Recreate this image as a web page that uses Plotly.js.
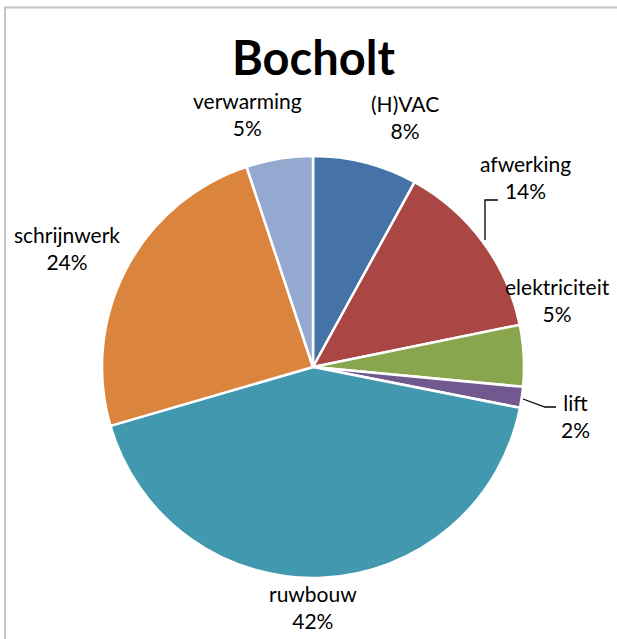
<!DOCTYPE html>
<html>
<head>
<meta charset="utf-8">
<script src="https://cdn.plot.ly/plotly-3.0.1.min.js"></script>
<style>html,body{margin:0;padding:0;background:#fff;}#chart{width:617px;height:639px;}</style>
</head>
<body>
<div id="chart"></div>
<script>
// Data
const categories = ["(H)VAC", "afwerking", "elektriciteit", "lift", "ruwbouw", "schrijnwerk", "verwarming"];
const values = [8.0, 13.8, 4.7, 1.6, 42.4, 24.4, 5.1];
const colors = ["#4572A7", "#AA4643", "#89A54E", "#71588F", "#4198AF", "#DB843D", "#93A9CF"];
const chartTitle = "Bocholt";

// Label placement (styling, in pixels)
const labelPos = [
  [405, 117], [525, 177], [557, 300], [575, 416], [313, 607], [67, 248], [247, 114]
];

const W = 617, H = 639;
const px = x => x / W;
const py = y => 1 - y / H;
const FONT = "Lato, 'Open Sans', sans-serif";

const total = values.reduce((a, b) => a + b, 0);
const annotations = categories.map((c, i) => ({
  xref: "paper", yref: "paper",
  x: px(labelPos[i][0]), y: py(labelPos[i][1]),
  xanchor: "center", yanchor: "middle",
  text: c + "<br>" + Math.round(values[i] / total * 100) + "%",
  showarrow: false,
  font: {family: FONT, size: 21, color: "#000"},
  align: "center"
}));
annotations.push({
  xref: "paper", yref: "paper", x: px(313), y: py(57),
  xanchor: "center", yanchor: "middle",
  text: "<b>" + chartTitle + "</b>", showarrow: false,
  font: {family: FONT, size: 47, color: "#000"}
});

const cx = 313, cy = 367, r = 211;
const trace = {
  type: "pie",
  labels: categories,
  values: values,
  sort: false,
  direction: "clockwise",
  rotation: 0,
  textinfo: "none",
  hoverinfo: "label+percent",
  marker: {colors: colors, line: {color: "#fff", width: 2.5}},
  domain: {x: [px(cx - r), px(cx + r)], y: [py(cy + r), py(cy - r)]},
  showlegend: false
};

const layout = {
  width: W, height: H,
  margin: {l: 0, r: 0, t: 0, b: 0},
  paper_bgcolor: "#fff",
  showlegend: false,
  annotations: annotations,
  shapes: [
    {type: "rect", xref: "paper", yref: "paper", x0: px(5), x1: 1.2, y0: -0.2, y1: py(7.5),
     line: {color: "#c4c4c4", width: 2}, fillcolor: "rgba(0,0,0,0)"},
    {type: "path", xref: "paper", yref: "paper",
     path: `M ${px(485)} ${py(240)} L ${px(485)} ${py(200)} L ${px(498)} ${py(200)}`,
     line: {color: "#000", width: 1.3}},
    {type: "path", xref: "paper", yref: "paper",
     path: `M ${px(523)} ${py(399)} L ${px(545)} ${py(407)} L ${px(556)} ${py(407)}`,
     line: {color: "#000", width: 1.3}}
  ]
};

Plotly.newPlot("chart", [trace], layout, {displayModeBar: false, staticPlot: true});
</script>
</body>
</html>
